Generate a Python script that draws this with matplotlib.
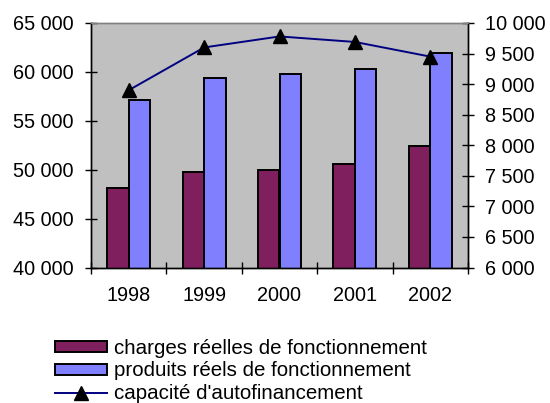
import matplotlib
matplotlib.use("Agg")
import matplotlib.pyplot as plt
import numpy as np
from matplotlib.patches import Patch
from matplotlib.lines import Line2D
from matplotlib.ticker import FuncFormatter, FixedLocator

plt.rcParams['font.family'] = ['Liberation Sans', 'DejaVu Sans']

years = ["1998", "1999", "2000", "2001", "2002"]
charges = [48150, 49750, 49950, 50600, 52400]
produits = [57150, 59400, 59800, 60250, 61900]
capacite = [8900, 9600, 9780, 9690, 9450]

left_ticks = [40000, 45000, 50000, 55000, 60000, 65000]
right_ticks = [6000, 6500, 7000, 7500, 8000, 8500, 9000, 9500, 10000]

c_charges = "#801F5E"
c_produits = "#8080FF"
c_line = "#000080"
fs = 14.3
fs_leg = 14.75


def spaced(v, pos=None):
    return f"{int(round(v)):,}".replace(",", " ")


fig = plt.figure(figsize=(5.5, 4.03), dpi=100)
ax = fig.add_axes([91 / 550, 1 - 267.5 / 403, (468 - 91) / 550, (267.5 - 23) / 403])
ax.set_facecolor("#C0C0C0")

x = np.arange(len(years))
w = 1 / 3.5
ax.bar(x - w / 2, charges, w, color=c_charges, edgecolor="black", linewidth=1.4, zorder=2)
ax.bar(x + w / 2, produits, w, color=c_produits, edgecolor="black", linewidth=1.4, zorder=2)

ax.set_xlim(-0.5, len(years) - 0.5)
ax.set_ylim(left_ticks[0], left_ticks[-1])
ax.yaxis.set_major_locator(FixedLocator(left_ticks))
ax.yaxis.set_major_formatter(FuncFormatter(spaced))
ax.tick_params(axis="y", direction="inout", length=8.5, width=1, pad=8, labelsize=fs)

# category boundaries carry the tick marks, centres carry the labels
ax.xaxis.set_major_locator(FixedLocator(np.arange(len(years) + 1) - 0.5))
ax.xaxis.set_major_formatter(FuncFormatter(lambda v, p: ""))
ax.xaxis.set_minor_locator(FixedLocator(x))
ax.set_xticklabels(years, minor=True)
ax.tick_params(axis="x", which="major", direction="inout", length=9, width=1)
ax.tick_params(axis="x", which="minor", length=0, pad=13, labelsize=fs)

ax2 = ax.twinx()
ax2.plot(x, capacite, color=c_line, linewidth=1.4, marker="^", markersize=9.6,
         markerfacecolor="black", markeredgecolor="black", zorder=3)
ax2.set_ylim(right_ticks[0], right_ticks[-1])
ax2.yaxis.set_major_locator(FixedLocator(right_ticks))
ax2.yaxis.set_major_formatter(FuncFormatter(spaced))
ax2.tick_params(axis="y", direction="inout", length=8.5, width=1, pad=8, labelsize=fs)

for a in (ax, ax2):
    for side in ("left", "right", "bottom"):
        a.spines[side].set_color("black")
        a.spines[side].set_linewidth(1.0)
    a.spines["top"].set_color("#808080")
    a.spines["top"].set_linewidth(1.0)

handles = [
    Patch(facecolor=c_charges, edgecolor="black", linewidth=1.4),
    Patch(facecolor=c_produits, edgecolor="black", linewidth=1.4),
    Line2D([], [], color=c_line, linewidth=1.4, marker="^", markersize=9.6,
           markerfacecolor="black", markeredgecolor="black"),
]
labels = ["charges réelles de fonctionnement",
          "produits réels de fonctionnement",
          "capacité d'autofinancement"]
fig.legend(handles, labels, loc="upper left", bbox_to_anchor=(55 / 550, 1 - 339 / 403),
           frameon=False, fontsize=fs_leg, handlelength=2.55, handleheight=0.45,
           handletextpad=0.33, labelspacing=0.17, borderpad=0, borderaxespad=0)

fig.savefig("out.png", dpi=100)
